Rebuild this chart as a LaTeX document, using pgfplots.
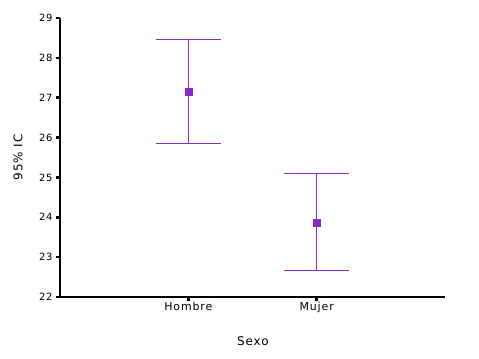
\documentclass[border=0pt]{standalone}
\usepackage{pgfplots}
\pgfplotsset{compat=1.18}
\usepackage{fontspec}
\setmainfont{DejaVu Sans}
\newfontfamily\wide[LetterSpace=8]{DejaVu Sans}
\definecolor{ciPurple}{RGB}{137,43,204}
\begin{document}
\begin{tikzpicture}
\begin{axis}[
  at={(60bp,62bp)}, anchor=south west,
  scale only axis, width=385bp, height=279bp,
  xmin=0, xmax=3, ymin=22, ymax=29,
  axis lines*=left,
  axis line style={black, line width=1.2bp},
  xtick={1,2}, xticklabels={Hombre,Mujer},
  ytick={22,23,...,29},
  tick align=outside,
  major tick length=4bp,
  every tick/.style={black, line width=2.5bp},
  yticklabel style={font=\wide\fontsize{10}{11}\selectfont},
  xticklabel style={font=\wide\fontsize{11}{12}\selectfont, yshift=2bp},
  /pgf/number format/assume math mode=true,
  xlabel={Sexo}, ylabel={95\% IC},
  label style={font=\wide\fontsize{12}{13}\selectfont},
  xlabel style={at={(axis description cs:0.501,-0.158)}, anchor=center},
  ylabel style={at={(axis description cs:-0.109,0.5)}, anchor=center},
  clip=false,
]
\addplot[only marks, mark=square*, mark size=3.5bp, color=ciPurple,
  error bars/.cd, y dir=both, y explicit, error mark=|,
  error bar style={line width=1bp, ciPurple},
  error mark options={mark size=32.5bp, line width=1bp, ciPurple}]
  coordinates {
    (1,27.14) += (0,1.32) -= (0,1.28)
    (2,23.87) += (0,1.23) -= (0,1.21)
  };
\end{axis}
\pgfresetboundingbox
\path (0,0) rectangle (479bp,359bp);
\end{tikzpicture}
\end{document}
